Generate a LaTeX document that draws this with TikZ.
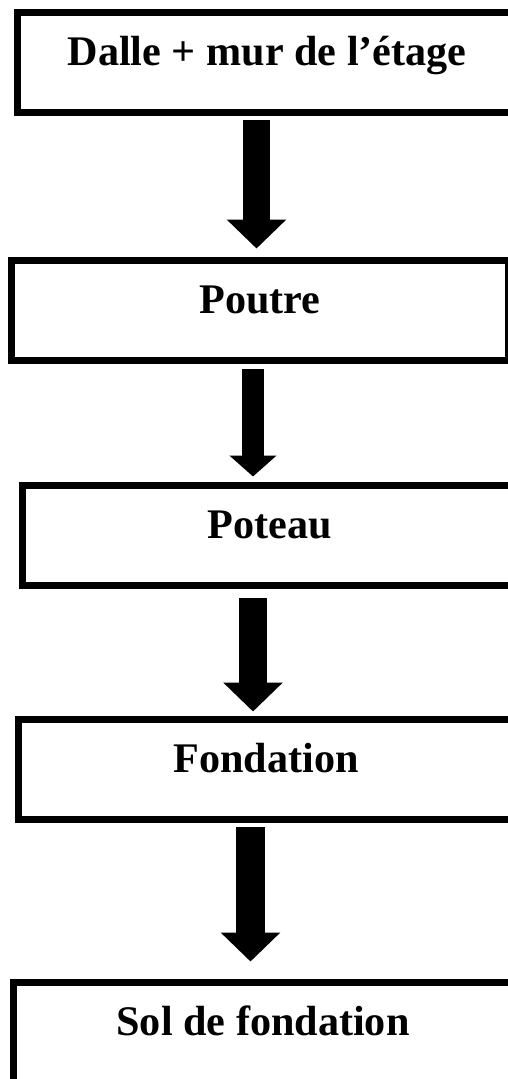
\documentclass[tikz,border=0pt]{standalone}
\usepackage{fontspec}
\setmainfont{Liberation Serif}
\usepackage{xcolor}
\usetikzlibrary{positioning,calc}
\usetikzlibrary{arrows.meta}
\tikzstyle{boite}=[draw, rectangle, line width=0.14cm, inner sep=0pt,
    minimum width=9.9cm, text height=1.05cm, text depth=0.94cm, anchor=base,
    font=\fontsize{24}{28}\selectfont\bfseries]
\tikzset{fleche/.style={line width=0.55cm,
        -{Triangle[width=1.16cm,length=0.58cm]}},
    flechemince/.style={line width=0.44cm,
        -{Triangle[width=0.92cm,length=0.42cm]}}
}

\begin{document}
\begin{tikzpicture}[]
      \clip (0,0) rectangle (10.16,-21.58);
      \node[boite, minimum width=9.98cm] (dalle) at (5.34,-1.30) {Dalle + mur de l’étage};
      \node[boite, minimum width=9.94cm] (poutre) at (5.20,-6.26) {Poutre};
      \node[boite] (poteau) at (5.40,-10.76) {Poteau};
      \node[boite] (fondation) at (5.32,-15.44) {Fondation};
      \node[boite, minimum width=9.98cm] (sol) at (5.26,-20.70) {Sol de fondation};
      \draw[fleche, shorten <=0.09cm, shorten >=0.17cm]
        ([xshift=-0.21cm]dalle.south) -- ([xshift=-0.21cm]dalle.south |- poutre.north);
      \draw[flechemince, shorten <=0.11cm, shorten >=0.11cm]
        ([xshift=-0.14cm]poutre.south) -- ([xshift=-0.14cm]poutre.south |- poteau.north);
      \draw[fleche, shorten <=0.19cm, shorten >=0.09cm]
        ([xshift=-0.34cm]poteau.south) -- ([xshift=-0.34cm]poteau.south |- fondation.north);
      \draw[fleche, line width=0.58cm, shorten <=0.09cm, shorten >=0.35cm]
        ([xshift=-0.31cm]fondation.south) -- ([xshift=-0.31cm]fondation.south |- sol.north);
    \end{tikzpicture}
\end{document}
